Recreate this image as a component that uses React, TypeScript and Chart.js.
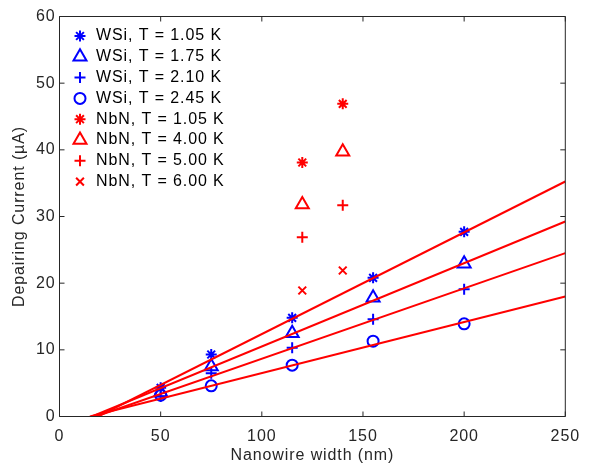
import React, { useEffect, useRef } from "react";
import { Chart, registerables, PointElement } from "chart.js";

Chart.register(...registerables);

// ---- data ----
const xWSi = [50, 75, 115, 155, 200];
const wsi105 = [4.3, 9.3, 14.8, 20.8, 27.7];
const wsi175 = [3.6, 7.5, 12.5, 17.8, 22.9];
const wsi210 = [3.0, 6.5, 10.3, 14.6, 19.1];
const wsi245 = [3.2, 4.6, 7.7, 11.3, 13.9];

const xNbN = [120, 140];
const nbn105 = [38.1, 46.9];
const nbn400 = [31.8, 39.7];
const nbn500 = [26.9, 31.7];
const nbn600 = [18.9, 21.9];

const fitStartX = [19, 16, 18, 15];
const fitStartY = [0, 0, 0, 0];
const fitEndX = [250, 250, 250, 250];
const fitEndY = [35.25, 29.25, 24.5, 18.0];

const xTicks = [0, 50, 100, 150, 200, 250];
const yTicks = [0, 10, 20, 30, 40, 50, 60];

const legendLabels = [
  "WSi, T = 1.05 K",
  "WSi, T = 1.75 K",
  "WSi, T = 2.10 K",
  "WSi, T = 2.45 K",
  "NbN, T = 1.05 K",
  "NbN, T = 4.00 K",
  "NbN, T = 5.00 K",
  "NbN, T = 6.00 K",
];

// ---- styles ----
const BLUE = "#0000ff";
const RED = "#ff0000";
const AXIS = "#262626";
const FONT = '"Liberation Sans", Arial, Helvetica, sans-serif';
const LETTER_SPACING = "0.9px";

type Marker = { pointStyle: string; radius: number; borderWidth: number };
const wsiMarkers: Marker[] = [
  { pointStyle: "star", radius: 5.5, borderWidth: 2 },
  { pointStyle: "triangle", radius: 7.5, borderWidth: 2 },
  { pointStyle: "cross", radius: 5.5, borderWidth: 2 },
  { pointStyle: "circle", radius: 5.5, borderWidth: 2 },
];
const nbnMarkers: Marker[] = [
  { pointStyle: "star", radius: 5.5, borderWidth: 2 },
  { pointStyle: "triangle", radius: 7.5, borderWidth: 2 },
  { pointStyle: "cross", radius: 5.5, borderWidth: 2 },
  { pointStyle: "crossRot", radius: 5.5, borderWidth: 2 },
];

const toPts = (xs: number[], ys: number[]) => xs.map((x, i) => ({ x, y: ys[i] }));

const wsiSeries = [wsi105, wsi175, wsi210, wsi245];
const nbnSeries = [nbn105, nbn400, nbn500, nbn600];

const legendItems = [
  ...wsiMarkers.map((m) => ({ ...m, color: BLUE })),
  ...nbnMarkers.map((m) => ({ ...m, color: RED })),
];

const spacingPlugin = {
  id: "letterSpacing",
  beforeUpdate(chart: any) {
    chart.ctx.letterSpacing = LETTER_SPACING;
  },
  beforeLayout(chart: any) {
    chart.ctx.letterSpacing = LETTER_SPACING;
  },
  beforeDraw(chart: any) {
    chart.ctx.letterSpacing = LETTER_SPACING;
  },
};

const boxPlugin = {
  id: "matlabBox",
  afterDatasetsDraw(chart: any) {
    const { ctx, chartArea } = chart;
    const { left, right, top, bottom } = chartArea;
    const xs = chart.scales.x;
    const ys = chart.scales.y;
    const tl = 5;
    ctx.save();
    ctx.strokeStyle = AXIS;
    ctx.lineWidth = 1;
    ctx.beginPath();
    ctx.rect(left, top, right - left, bottom - top);
    for (const v of xTicks) {
      const px = xs.getPixelForValue(v);
      ctx.moveTo(px, bottom);
      ctx.lineTo(px, bottom - tl);
      ctx.moveTo(px, top);
      ctx.lineTo(px, top + tl);
    }
    for (const v of yTicks) {
      const py = ys.getPixelForValue(v);
      ctx.moveTo(left, py);
      ctx.lineTo(left + tl, py);
      ctx.moveTo(right, py);
      ctx.lineTo(right - tl, py);
    }
    ctx.stroke();
    ctx.restore();
  },
};

const legendPlugin = {
  id: "matlabLegend",
  afterDraw(chart: any) {
    const { ctx, chartArea } = chart;
    const markerX = chartArea.left + 20.5;
    const textX = chartArea.left + 36.5;
    const firstY = chartArea.top + 19.5;
    const step = 20.8;
    ctx.save();
    ctx.letterSpacing = LETTER_SPACING;
    ctx.font = `16px ${FONT}`;
    ctx.fillStyle = "#000000";
    ctx.textAlign = "left";
    ctx.textBaseline = "middle";
    legendLabels.forEach((label, i) => {
      const y = firstY + i * step;
      const it = legendItems[i];
      const p = new PointElement({
        x: markerX,
        y,
        options: {
          pointStyle: it.pointStyle,
          radius: it.radius,
          borderWidth: it.borderWidth,
          borderColor: it.color,
          backgroundColor: "rgba(0,0,0,0)",
          rotation: 0,
        },
      } as any);
      p.draw(ctx, chartArea);
      ctx.fillStyle = "#000000";
      ctx.fillText(label, textX, y);
    });
    ctx.restore();
  },
};

export default function App() {
  const ref = useRef<HTMLCanvasElement>(null);

  useEffect(() => {
    const datasets: any[] = [];
    wsiSeries.forEach((ys, i) => {
      datasets.push({
        label: legendLabels[i],
        data: toPts(xWSi, ys),
        showLine: false,
        pointStyle: wsiMarkers[i].pointStyle,
        pointRadius: wsiMarkers[i].radius,
        pointBorderWidth: wsiMarkers[i].borderWidth,
        borderColor: BLUE,
        pointBorderColor: BLUE,
        backgroundColor: "rgba(0,0,0,0)",
        pointBackgroundColor: "rgba(0,0,0,0)",
        order: 1,
      });
    });
    nbnSeries.forEach((ys, i) => {
      datasets.push({
        label: legendLabels[4 + i],
        data: toPts(xNbN, ys),
        showLine: false,
        pointStyle: nbnMarkers[i].pointStyle,
        pointRadius: nbnMarkers[i].radius,
        pointBorderWidth: nbnMarkers[i].borderWidth,
        borderColor: RED,
        pointBorderColor: RED,
        backgroundColor: "rgba(0,0,0,0)",
        pointBackgroundColor: "rgba(0,0,0,0)",
        order: 1,
      });
    });
    fitEndY.forEach((_, i) => {
      datasets.push({
        label: `fit ${i + 1}`,
        data: [
          { x: fitStartX[i], y: fitStartY[i] },
          { x: fitEndX[i], y: fitEndY[i] },
        ],
        showLine: true,
        borderColor: RED,
        borderWidth: 2,
        pointRadius: 0,
        fill: false,
        order: 0,
      });
    });

    const chart = new Chart(ref.current as HTMLCanvasElement, {
      type: "scatter",
      data: { datasets },
      options: {
        animation: false,
        responsive: false,
        devicePixelRatio: 1,
        events: [],
        layout: { padding: { left: 0, top: 16.5, right: 24.5, bottom: 0 } },
        plugins: {
          legend: { display: false },
          tooltip: { enabled: false },
          title: { display: false },
        },
        scales: {
          x: {
            type: "linear",
            min: 0,
            max: 250,
            afterFit: (s: any) => {
              s.height = 47.5;
            },
            afterBuildTicks: (s: any) => {
              s.ticks = xTicks.map((v) => ({ value: v }));
            },
            grid: { display: false, drawTicks: false },
            border: { display: false },
            ticks: {
              padding: 10,
              color: AXIS,
              font: { family: FONT, size: 16 },
              maxRotation: 0,
              autoSkip: false,
            },
            title: {
              display: true,
              text: "Nanowire width (nm)",
              color: AXIS,
              font: { family: FONT, size: 16, lineHeight: 1 },
              padding: { top: 0, bottom: 0 },
            },
          },
          y: {
            type: "linear",
            min: 0,
            max: 60,
            afterFit: (s: any) => {
              s.width = 59.5;
            },
            afterBuildTicks: (s: any) => {
              s.ticks = yTicks.map((v) => ({ value: v }));
            },
            grid: { display: false, drawTicks: false },
            border: { display: false },
            ticks: {
              padding: 4,
              color: AXIS,
              font: { family: FONT, size: 16 },
              autoSkip: false,
            },
            title: {
              display: true,
              text: "Depairing Current (µA)",
              color: AXIS,
              font: { family: FONT, size: 16 },
              padding: { top: 10, bottom: 0 },
            },
          },
        },
      },
      plugins: [spacingPlugin, boxPlugin, legendPlugin],
    } as any);

    return () => chart.destroy();
  }, []);

  return (
    <div
      style={{
        position: "absolute",
        left: 0,
        top: 0,
        width: 590,
        height: 464,
        background: "#ffffff",
      }}
    >
      <canvas
        ref={ref}
        width={590}
        height={464}
        style={{ display: "block", width: 590, height: 464 }}
      />
    </div>
  );
}
